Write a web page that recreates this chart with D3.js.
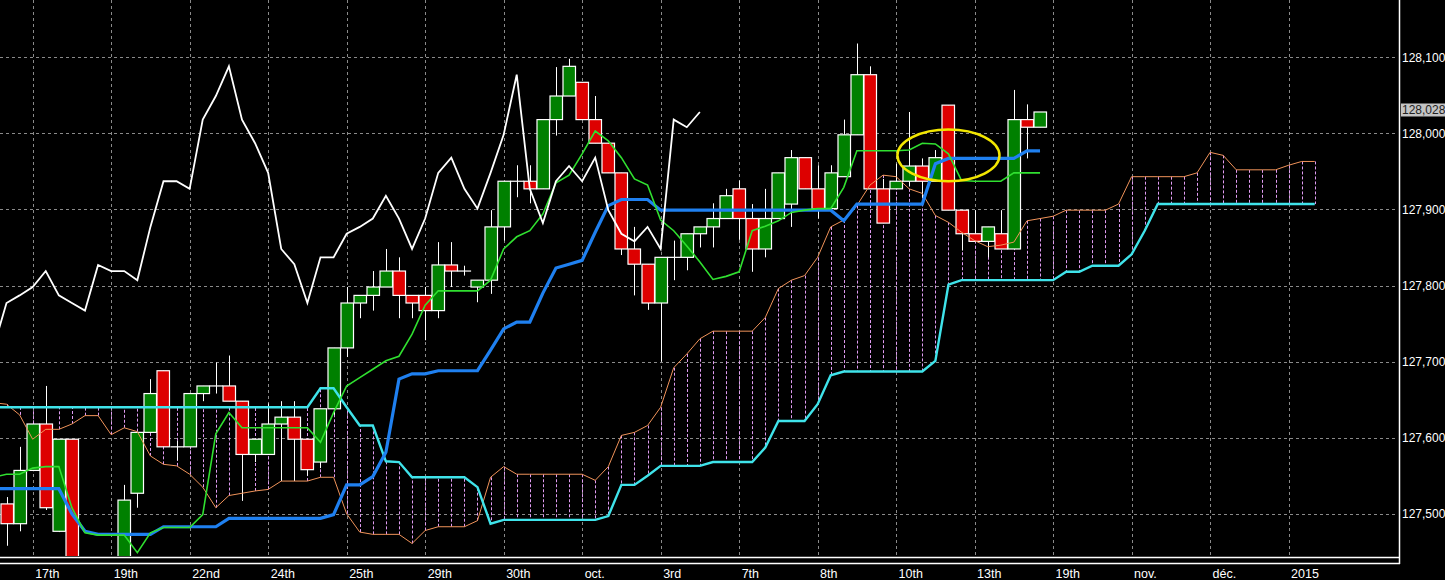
<!DOCTYPE html>
<html>
<head>
<meta charset="utf-8">
<script src="https://cdn.jsdelivr.net/npm/d3@7"></script>
<style>
html, body { margin: 0; padding: 0; background: #000; overflow: hidden; }
svg { display: block; }
</style>
</head>
<body>
<svg id="chart" width="1445" height="580"></svg>
<script>
// candles, bar 0..79
const open = [127.513,127.487,127.557,127.618,127.477,127.598,127.42,127.38,127.36,127.40,
  127.527,127.607,127.688,127.588,127.588,127.658,127.668,127.668,127.648,127.578,
  127.578,127.618,127.627,127.598,127.568,127.638,127.718,127.777,127.787,127.798,
  127.819,127.787,127.787,127.767,127.827,127.819,127.798,127.807,127.877,127.937,
  127.937,127.927,128.018,128.049,128.067,128.018,127.987,127.948,127.848,127.828,
  127.777,127.837,127.837,127.868,127.877,127.888,127.927,127.888,127.848,127.888,
  127.907,127.968,127.927,127.901,127.943,127.998,128.077,127.927,127.927,127.937,
  127.957,127.937,128.037,127.899,127.868,127.858,127.868,127.848,128.018,128.008];
const high = [127.522,127.588,127.618,127.668,127.598,127.598,127.43,127.40,127.41,127.538,
  127.607,127.677,127.688,127.596,127.658,127.668,127.699,127.708,127.648,127.598,
  127.645,127.648,127.648,127.598,127.638,127.718,127.798,127.787,127.819,127.848,
  127.837,127.787,127.798,127.857,127.857,127.826,127.807,127.899,127.937,127.958,
  127.958,128.018,128.087,128.098,128.067,128.049,127.987,127.948,127.877,127.828,
  127.837,127.859,127.868,127.877,127.908,127.927,127.938,127.907,127.927,127.948,
  127.978,127.968,127.958,127.958,128.018,128.118,128.088,127.940,127.960,128.028,
  127.967,127.978,128.037,127.899,127.899,127.877,127.899,128.057,128.038,128.028];
const low = [127.458,127.477,127.556,127.505,127.476,127.40,127.36,127.33,127.34,127.38,
  127.508,127.607,127.588,127.570,127.588,127.648,127.658,127.648,127.517,127.568,
  127.578,127.543,127.543,127.550,127.560,127.630,127.706,127.757,127.767,127.798,
  127.757,127.757,127.728,127.757,127.798,127.813,127.778,127.789,127.859,127.916,
  127.908,127.927,127.997,128.049,128.018,127.987,127.948,127.840,127.787,127.768,
  127.700,127.807,127.820,127.850,127.850,127.888,127.860,127.818,127.837,127.888,
  127.877,127.927,127.888,127.901,127.943,127.998,127.927,127.882,127.927,127.930,
  127.915,127.937,127.899,127.846,127.858,127.837,127.848,127.848,127.967,128.008];
const close = [127.487,127.557,127.618,127.508,127.598,127.42,127.38,127.36,127.40,127.518,
  127.607,127.658,127.588,127.588,127.658,127.668,127.668,127.648,127.578,127.598,
  127.618,127.627,127.598,127.558,127.638,127.718,127.777,127.787,127.798,127.819,
  127.787,127.777,127.767,127.827,127.819,127.819,127.807,127.877,127.937,127.937,
  127.927,128.018,128.049,128.088,128.018,127.987,127.948,127.848,127.828,127.777,
  127.837,127.837,127.868,127.877,127.888,127.918,127.888,127.848,127.888,127.948,
  127.968,127.927,127.901,127.948,127.998,128.077,127.927,127.882,127.937,127.957,
  127.937,127.968,127.899,127.868,127.858,127.877,127.848,128.018,128.008,128.028];

// indicator lines, first value is bar -1
const tenkan = [127.548,127.552,127.552,127.560,127.562,127.562,127.508,127.475,127.472,127.472,
  127.472,127.449,127.475,127.482,127.482,127.482,127.499,127.605,127.633,127.613,
  127.613,127.613,127.613,127.613,127.613,127.594,127.633,127.668,127.679,127.690,
  127.701,127.707,127.736,127.774,127.793,127.793,127.793,127.793,127.807,127.848,
  127.864,127.872,127.894,127.935,127.945,127.973,128.003,127.990,127.968,127.940,
  127.932,127.886,127.872,127.852,127.831,127.808,127.812,127.818,127.872,127.878,
  127.885,127.896,127.899,127.901,127.901,127.929,127.977,127.977,127.977,127.977,
  127.978,127.987,127.986,127.973,127.938,127.937,127.937,127.937,127.948,127.948,
  127.948];
const kijun = [127.533,127.533,127.533,127.533,127.533,127.533,127.500,127.477,127.473,127.473,
  127.473,127.473,127.473,127.483,127.483,127.483,127.483,127.483,127.494,127.494,
  127.494,127.494,127.494,127.494,127.494,127.494,127.499,127.538,127.538,127.549,
  127.581,127.677,127.684,127.684,127.688,127.688,127.688,127.688,127.715,127.743,
  127.752,127.752,127.790,127.823,127.828,127.833,127.870,127.905,127.913,127.913,
  127.913,127.899,127.899,127.899,127.899,127.899,127.899,127.899,127.899,127.899,
  127.899,127.899,127.899,127.899,127.899,127.885,127.907,127.907,127.907,127.907,
  127.907,127.907,127.960,127.967,127.967,127.967,127.967,127.967,127.967,127.977,
  127.977];
const senkouA = [127.646,127.644,127.630,127.598,127.611,127.611,127.618,127.629,127.629,127.604,
  127.613,127.608,127.576,127.565,127.563,127.552,127.535,127.508,127.524,127.527,
  127.530,127.532,127.543,127.543,127.543,127.548,127.548,127.500,127.476,127.473,
  127.473,127.473,127.461,127.478,127.483,127.483,127.483,127.491,127.548,127.562,
  127.552,127.552,127.552,127.552,127.552,127.552,127.544,127.562,127.603,127.607,
  127.616,127.640,127.692,127.710,127.730,127.740,127.740,127.740,127.740,127.758,
  127.796,127.807,127.813,127.837,127.877,127.886,127.905,127.932,127.945,127.943,
  127.927,127.921,127.892,127.883,127.870,127.859,127.851,127.853,127.857,127.885,
  127.888,127.891,127.899,127.899,127.899,127.899,127.907,127.943,127.943,127.943,
  127.943,127.943,127.948,127.975,127.971,127.952,127.952,127.952,127.952,127.958,
  127.963,127.963];
const senkouB = [127.640,127.640,127.640,127.640,127.640,127.640,127.640,127.640,127.640,127.640,
  127.640,127.640,127.640,127.640,127.640,127.640,127.640,127.640,127.640,127.640,
  127.640,127.640,127.640,127.640,127.640,127.665,127.665,127.640,127.616,127.616,
  127.569,127.568,127.548,127.548,127.548,127.548,127.548,127.535,127.487,127.492,
  127.492,127.492,127.492,127.492,127.492,127.492,127.492,127.497,127.538,127.538,
  127.550,127.563,127.563,127.563,127.563,127.568,127.568,127.568,127.568,127.587,
  127.622,127.622,127.622,127.644,127.682,127.687,127.687,127.687,127.687,127.687,
  127.687,127.687,127.701,127.801,127.807,127.807,127.807,127.807,127.807,127.807,
  127.807,127.807,127.818,127.818,127.826,127.826,127.826,127.841,127.872,127.907,
  127.907,127.907,127.907,127.907,127.907,127.907,127.907,127.907,127.907,127.907,
  127.907,127.907];
const lineStart = -1;
const lagShift = 26;

const yTicks = [127.5, 127.6, 127.7, 127.8, 127.9, 128.0, 128.1];
const xTickBars = [2, 8, 14, 20, 26, 32, 38, 44, 50, 56, 62, 68, 74, 80, 86, 92, 98];
const xTickLabels = ["17th","19th","22nd","24th","25th","29th","30th","oct.","3rd","7th","8th","10th","13th","19th","nov.","déc.","2015"];
const lastPrice = 128.028;
// yellow ring drawn on the chart: centre bar, centre price, half width in bars, half height in price
const ring = {bar: 72, price: 127.971, bars: 3.9, dp: 0.034};

const plotRight = 1399, plotBottom = 556;
const x = d3.scaleLinear().domain([0, 98]).range([6.5, 1288.6]);
const y = d3.scaleLinear().domain([127.5, 128.1]).range([513.8, 57.2]);
const fmt = d => d.toFixed(3).replace('.', ',');

const svg = d3.select("#chart");
svg.append("rect").attr("width", 1445).attr("height", 580).attr("fill", "#000");

svg.append("defs").append("clipPath").attr("id", "plot")
  .append("rect").attr("x", 0).attr("y", 0).attr("width", plotRight).attr("height", plotBottom);

// grid
const grid = svg.append("g").attr("stroke", "#8a8a8a").attr("stroke-width", 1).attr("stroke-dasharray", "3,3");
grid.selectAll(".h").data(yTicks).enter().append("line")
  .attr("x1", 0).attr("x2", plotRight - 3)
  .attr("y1", d => Math.round(y(d)) + 0.5).attr("y2", d => Math.round(y(d)) + 0.5);
grid.selectAll(".v").data(xTickBars).enter().append("line")
  .attr("x1", d => Math.round(x(d)) + 0.5).attr("x2", d => Math.round(x(d)) + 0.5)
  .attr("y1", 0).attr("y2", 555);

const plot = svg.append("g").attr("clip-path", "url(#plot)");

// cloud hatching
const cloud = senkouA.map((a, k) => ({bar: k + lineStart, a: a, b: senkouB[k]}));
plot.append("g").selectAll("line").data(cloud).enter().append("line")
  .attr("x1", d => Math.round(x(d.bar)) + 0.5).attr("x2", d => Math.round(x(d.bar)) + 0.5)
  .attr("y1", d => y(d.a)).attr("y2", d => y(d.b))
  .attr("stroke", "#e09cf2").attr("stroke-width", 1).attr("stroke-dasharray", "3,2");

// candles
const bars = close.map((c, i) => ({i: i, o: open[i], h: high[i], l: low[i], c: c}));
const cg = plot.append("g");
cg.selectAll(".wick").data(bars).enter().append("line")
  .attr("x1", d => Math.round(x(d.i)) + 0.5).attr("x2", d => Math.round(x(d.i)) + 0.5)
  .attr("y1", d => y(d.h)).attr("y2", d => y(d.l))
  .attr("stroke", "#fff").attr("stroke-width", 1);
cg.selectAll(".body").data(bars).enter().append("rect")
  .attr("x", d => Math.round(x(d.i)) - 6)
  .attr("width", 12.5)
  .attr("y", d => y(Math.max(d.o, d.c)))
  .attr("height", d => Math.max(0.01, Math.abs(y(d.o) - y(d.c))))
  .attr("fill", d => d.c >= d.o ? "#008000" : "#dd0000")
  .attr("stroke", "#fff").attr("stroke-width", 1.2);

// lines
const line = d3.line().x(d => x(d.bar)).y(d => y(d.v));
const series = arr => arr.map((v, k) => ({bar: k + lineStart, v: v}));
const chikou = [];
for (let i = lineStart; i + lagShift < close.length; i++) chikou.push({bar: i, v: close[i + lagShift]});

plot.append("path").datum(series(senkouA)).attr("d", line)
  .attr("fill", "none").attr("stroke", "#f0935a").attr("stroke-width", 1);
plot.append("path").datum(series(senkouB)).attr("d", line)
  .attr("fill", "none").attr("stroke", "#3fe3ea").attr("stroke-width", 2.4);
plot.append("path").datum(series(kijun)).attr("d", line)
  .attr("fill", "none").attr("stroke", "#1f80f0").attr("stroke-width", 3.2);
plot.append("path").datum(series(tenkan)).attr("d", line)
  .attr("fill", "none").attr("stroke", "#30e030").attr("stroke-width", 1.6);
plot.append("path").datum(chikou).attr("d", line)
  .attr("fill", "none").attr("stroke", "#fff").attr("stroke-width", 1.8);

plot.append("ellipse")
  .attr("cx", x(ring.bar)).attr("cy", y(ring.price))
  .attr("rx", x(ring.bars) - x(0)).attr("ry", y(ring.price - ring.dp) - y(ring.price))
  .attr("fill", "none").attr("stroke", "#f2e600").attr("stroke-width", 2.5);

// frame
const frame = svg.append("g").attr("stroke", "#fff").attr("stroke-width", 1.5);
frame.append("line").attr("x1", 0).attr("x2", plotRight + 1).attr("y1", 557.5).attr("y2", 557.5);
frame.append("line").attr("x1", 0).attr("x2", plotRight + 1).attr("y1", 563.5).attr("y2", 563.5);
frame.append("line").attr("x1", plotRight + 0.5).attr("x2", plotRight + 0.5).attr("y1", 0).attr("y2", 564);

// axes
const yAxis = svg.append("g").attr("transform", `translate(${plotRight},0)`)
  .call(d3.axisRight(y).tickValues(yTicks).tickFormat(fmt).tickSize(0).tickPadding(3));
const xAxis = svg.append("g").attr("transform", "translate(0,565)")
  .call(d3.axisBottom(x).tickValues(xTickBars).tickFormat((d, i) => xTickLabels[i]).tickSize(0).tickPadding(4));
[yAxis, xAxis].forEach(g => {
  g.select(".domain").remove();
  g.selectAll("text").attr("fill", "#fff").style("font-family", "'Liberation Sans', Arial, sans-serif");
});
yAxis.selectAll("text").style("font-size", "12px");
xAxis.selectAll("text").style("font-size", "12.5px").attr("text-anchor", "start").attr("dx", 2);

// last price tag
const tagY = y(lastPrice) - 2;
svg.append("rect").attr("x", plotRight + 2).attr("y", tagY - 6.5).attr("width", 46).attr("height", 13).attr("fill", "#c4c4c4");
svg.append("text").attr("x", plotRight + 3).attr("y", tagY).attr("dy", "0.35em")
  .attr("fill", "#222").style("font-family", "'Liberation Sans', Arial, sans-serif").style("font-size", "12px")
  .text(fmt(lastPrice));
</script>
</body>
</html>
